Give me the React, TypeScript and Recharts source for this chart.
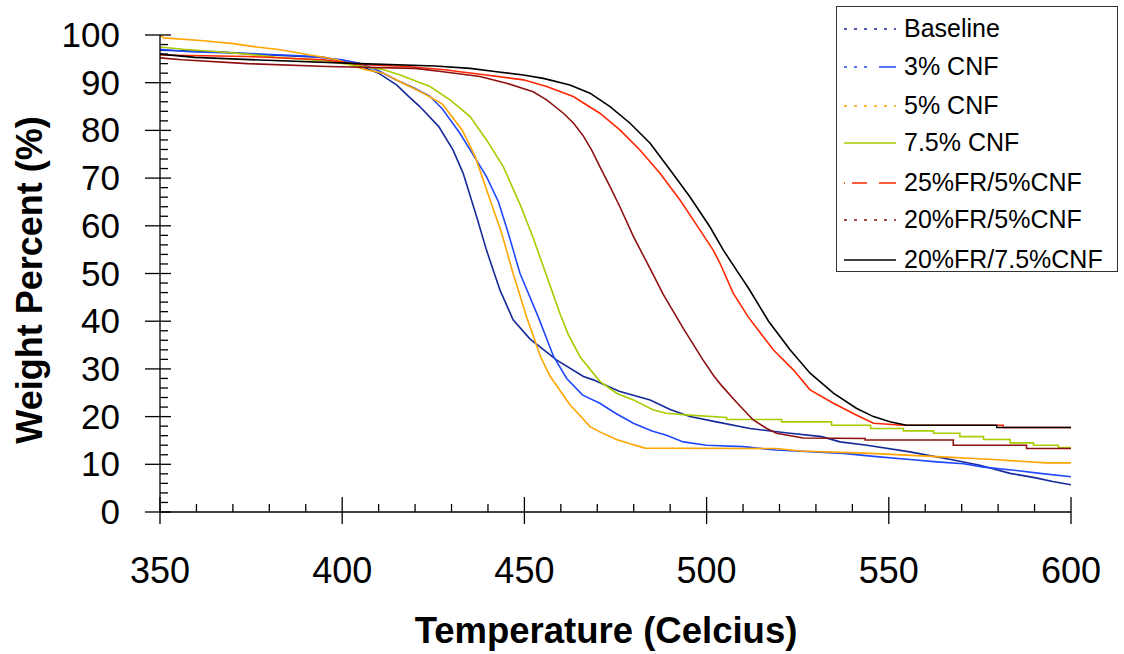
import React from 'react';
import { LineChart, Line, XAxis, YAxis, Legend } from 'recharts';

// ---- tick values ----
const xTicks = [350, 360, 370, 380, 390, 400, 410, 420, 430, 440, 450, 460, 470, 480, 490, 500, 510, 520, 530, 540, 550, 560, 570, 580, 590, 600];
const yTicks = [0, 2, 4, 6, 8, 10, 12, 14, 16, 18, 20, 22, 24, 26, 28, 30, 32, 34, 36, 38, 40, 42, 44, 46, 48, 50, 52, 54, 56, 58, 60, 62, 64, 66, 68, 70, 72, 74, 76, 78, 80, 82, 84, 86, 88, 90, 92, 94, 96, 98, 100];

// ---- series names ----
const seriesNames = ['Baseline', '3% CNF', '5% CNF', '7.5% CNF', '25%FR/5%CNF', '20%FR/5%CNF', '20%FR/7.5%CNF'];

// ---- Baseline ----
const baselineT = [350, 366, 375, 395, 400, 405, 410, 415, 418, 421.3, 426.5, 430.4, 433.2, 436.9, 439.6, 443.3, 446.9, 451.5, 458.8, 466.2, 468.9, 476, 484.5, 490, 495.4, 502.7, 511.9, 522.9, 531.6, 536.6, 544, 555.8, 567.7, 575, 583.3, 590, 595, 600];
const baselineW = [96.8, 96.5, 96.0, 95.3, 94.5, 93.5, 92, 89.5, 87.3, 85.0, 80.8, 75.9, 71.0, 61.9, 54.9, 46.5, 40.3, 36.3, 31.9, 28.4, 27.7, 25.3, 23.5, 21.5, 20.0, 18.9, 17.5, 16.5, 15.8, 14.7, 14.0, 12.6, 10.9, 9.8, 8.1, 7.2, 6.4, 5.7];

// ---- 3% CNF ----
const cnf3T = [350, 358, 372, 390, 400, 405, 410, 415, 420, 424, 427.5, 432.3, 436, 439.6, 442.9, 445.6, 448.8, 453.8, 458, 461.6, 466, 470.7, 475, 479.9, 485, 489, 493.6, 500, 510, 519, 537.5, 546.6, 555.8, 563.2, 570.5, 576, 585, 591.5, 600];
const cnf3W = [97, 96.5, 96.2, 95.6, 94.8, 94, 92.5, 90.5, 88.8, 87.2, 84.5, 79.4, 74.8, 70.3, 65.0, 58.4, 50.0, 40.9, 32.6, 28.0, 24.5, 22.8, 20.7, 18.6, 17, 16.1, 14.7, 14.0, 13.7, 13.0, 12.3, 11.6, 11.0, 10.5, 10.1, 9.4, 8.7, 8.1, 7.4];

// ---- 5% CNF ----
const cnf5T = [350, 351, 362, 370, 376.5, 382, 387, 391.2, 395.3, 398.5, 405.8, 411.3, 415.9, 422.3, 427.5, 432.9, 436.5, 440.1, 443.7, 446.9, 450.6, 454.4, 457, 460, 462.5, 464.3, 468, 470.7, 475.3, 479, 483.1, 519.2, 525.6, 545, 563.2, 578.7, 593.3, 600];
const cnf5W = [100, 99.4, 98.8, 98.2, 97.5, 97.0, 96.4, 95.8, 95.3, 94.8, 92.8, 92.0, 90.2, 87.8, 85.5, 80.1, 74.5, 66.5, 58.6, 50.0, 40.9, 32.6, 28.5, 25.2, 22.5, 21, 17.9, 16.8, 15.2, 14.3, 13.4, 13.3, 12.8, 12.3, 11.6, 11.0, 10.3, 10.3];

// ---- 7.5% CNF ----
const cnf75T = [350, 356.4, 366, 373.8, 382, 394.7, 405.8, 411, 415.9, 424.1, 429.6, 435.1, 439.6, 444.2, 448.8, 452.4, 456.1, 459.8, 462, 465.3, 470.7, 475.3, 479.9, 485.4, 489, 495.4, 505.5, 505.5, 520.6, 520.6, 534.3, 534.3, 545, 545, 554, 554, 562.3, 562.3, 569.5, 569.5, 576, 576, 583.3, 583.3, 589.7, 589.7, 596.5, 596.5, 600];
const cnf75W = [97.5, 97.0, 96.5, 96.0, 95.3, 94.6, 93.4, 92.8, 91.6, 89.2, 86.4, 82.9, 78.0, 72.4, 64.5, 57.5, 49.5, 41.5, 37.3, 32.5, 27.4, 24.9, 23.5, 21.4, 20.7, 20.3, 19.8, 19.4, 19.4, 18.9, 18.9, 18.2, 18.2, 17.5, 17.5, 17.0, 17.0, 16.5, 16.5, 15.8, 15.8, 15.2, 15.2, 14.5, 14.5, 14.0, 14.0, 13.5, 13.5];

// ---- 25%FR/5%CNF ----
const fr25cnf5T = [350, 374, 395, 405, 417.7, 428.2, 432.3, 439.6, 449.7, 456.1, 463.4, 470.7, 476.2, 481.7, 487.2, 492.7, 498.2, 501.8, 503.7, 507.3, 511.4, 518.3, 523.8, 528.4, 534.8, 541.2, 545.8, 554, 581.4, 581.4, 600];
const fr25cnf5W = [95.8, 95.5, 94.8, 93.8, 93.4, 92.7, 92.3, 91.6, 90.6, 89.2, 87.1, 83.6, 80.1, 75.9, 71.0, 65.4, 59.1, 54.9, 52.1, 45.9, 40.9, 34.0, 29.8, 25.6, 22.8, 20.3, 18.6, 18.2, 18.2, 17.7, 17.7];

// ---- 20%FR/5%CNF ----
const fr20cnf5T = [350, 356, 374, 396, 420, 427.7, 437.8, 445.1, 452.4, 456.1, 460.7, 463.5, 466.2, 468.5, 470.7, 473.5, 476.2, 479.9, 484.5, 488.1, 493.6, 499, 502, 504, 508.2, 512.8, 516.5, 519.2, 526.5, 543.5, 543.5, 567.7, 567.7, 587.8, 587.8, 600];
const fr20cnf5W = [95.2, 94.8, 94.0, 93.4, 93.0, 92.3, 91.3, 89.9, 88.1, 86.4, 83.6, 81.5, 78.8, 75.8, 72.4, 68.2, 64.0, 57.8, 51.0, 45.6, 38.5, 31.9, 28.5, 26.6, 23.0, 19.3, 17.5, 16.5, 15.5, 15.4, 15.1, 15.1, 14.0, 14.0, 13.3, 13.3];

// ---- 20%FR/7.5%CNF ----
const fr20cnf75T = [350, 359.6, 379.3, 404.9, 425.5, 435.1, 442.4, 449.7, 455.2, 462.5, 468, 473.5, 479, 484.5, 490, 495.4, 500.9, 504.6, 508.2, 511.6, 517, 522.9, 528.4, 534.8, 541.2, 545.8, 550.3, 554.9, 579.6, 579.6, 600];
const fr20cnf75W = [96.0, 95.3, 94.7, 94.0, 93.5, 93.0, 92.3, 91.6, 90.9, 89.5, 87.8, 85.0, 81.5, 77.3, 71.7, 66.1, 59.8, 54.9, 50.7, 46.8, 40, 34.0, 29.1, 24.9, 21.7, 20.0, 18.9, 18.2, 18.2, 17.7, 17.7];

const seriesColors = ['#16299a', '#1f48ff', '#ffa500', '#a8cc00', '#ff2600', '#8e1010', '#000000'];
const legendDash = ['3 7', '3 7 3 7 3 12 30', '3 7', '', '1 7 15 12 30', '3 7', ''];

const toPoints = (t: number[], w: number[]) => t.map((x, i) => ({ t: x, w: w[i] }));

const seriesData = [
  toPoints(baselineT, baselineW),
  toPoints(cnf3T, cnf3W),
  toPoints(cnf5T, cnf5W),
  toPoints(cnf75T, cnf75W),
  toPoints(fr25cnf5T, fr25cnf5W),
  toPoints(fr20cnf5T, fr20cnf5W),
  toPoints(fr20cnf75T, fr20cnf75W),
];

const FONT = '"Liberation Sans", Arial, Helvetica, sans-serif';

const XTick = (props: any) => {
  const { x, y, payload } = props;
  const v = payload.value;
  const major = v % 50 === 0;
  return (
    <g>
      <line x1={x} x2={x} y1={major ? y - 15 : y - 8} y2={major ? y + 12 : y} stroke="#000" strokeWidth={1.3} />
      {major && (
        <text x={x} y={y + 71} textAnchor="middle" fontSize={36} fontFamily={FONT} fill="#000">
          {v}
        </text>
      )}
    </g>
  );
};

const YTick = (props: any) => {
  const { x, y, payload } = props;
  const v = payload.value;
  const major = v % 10 === 0;
  return (
    <g>
      <line x1={major ? x - 15 : x} x2={major ? x + 11 : x + 8} y1={y} y2={y} stroke="#000" strokeWidth={1.3} />
      {major && (
        <text x={x - 40} y={y + 12} textAnchor="end" fontSize={35} fontFamily={FONT} fill="#000">
          {v}
        </text>
      )}
    </g>
  );
};

const LegendBox = () => {
  const rowsY = [23, 61, 100, 137, 177, 214, 254];
  return (
    <svg width={282} height={266} style={{ display: 'block' }}>
      <rect x={0.5} y={0.5} width={281} height={265} fill="#fff" stroke="#333" strokeWidth={1} />
      {seriesNames.map((name, i) => (
        <g key={name}>
          <line
            x1={8}
            x2={60}
            y1={rowsY[i]}
            y2={rowsY[i]}
            stroke={seriesColors[i]}
            strokeWidth={1.5}
            strokeDasharray={legendDash[i] || undefined}
          />
          <text x={68} y={rowsY[i] + 8} fontSize={25} fontFamily={FONT} fill="#000">
            {name}
          </text>
        </g>
      ))}
    </svg>
  );
};

export default function App() {
  return (
    <div style={{ position: 'absolute', left: 0, top: 0, width: 1124, height: 654, background: '#fff' }}>
      <LineChart width={1124} height={654} margin={{ top: 35, right: 53, bottom: 0, left: 0 }}>
        <XAxis
          type="number"
          dataKey="t"
          domain={[350, 600]}
          ticks={xTicks}
          interval={0}
          allowDataOverflow
          tickLine={false}
          tickSize={0}
          tickMargin={0}
          tick={(p: any) => <XTick {...p} />}
          axisLine={{ stroke: '#000', strokeWidth: 1.3 }}
          height={142}
          label={{
            content: () => (
              <text x={606} y={643} textAnchor="middle" fontSize={36.5} fontWeight="bold" fontFamily={FONT} fill="#000">
                Temperature (Celcius)
              </text>
            ),
          }}
        />
        <YAxis
          type="number"
          dataKey="w"
          domain={[0, 100]}
          ticks={yTicks}
          interval={0}
          allowDataOverflow
          tickLine={false}
          tickSize={0}
          tickMargin={0}
          tick={(p: any) => <YTick {...p} />}
          axisLine={{ stroke: '#000', strokeWidth: 1.3 }}
          width={160}
          label={{
            content: () => (
              <text
                transform="translate(42, 280) rotate(-90)"
                textAnchor="middle"
                fontSize={36}
                fontWeight="bold"
                fontFamily={FONT}
                fill="#000"
              >
                Weight Percent (%)
              </text>
            ),
          }}
        />
        {seriesData.map((d, i) => (
          <Line
            key={seriesNames[i]}
            name={seriesNames[i]}
            data={d}
            dataKey="w"
            type="linear"
            stroke={seriesColors[i]}
            strokeWidth={1.6}
            dot={false}
            activeDot={false}
            isAnimationActive={false}
          />
        ))}
        <Legend
          layout="vertical"
          align="center"
          verticalAlign="middle"
          wrapperStyle={{ position: 'absolute', left: 836, top: 6, width: 282, height: 266 }}
          content={() => <LegendBox />}
        />
      </LineChart>
    </div>
  );
}
